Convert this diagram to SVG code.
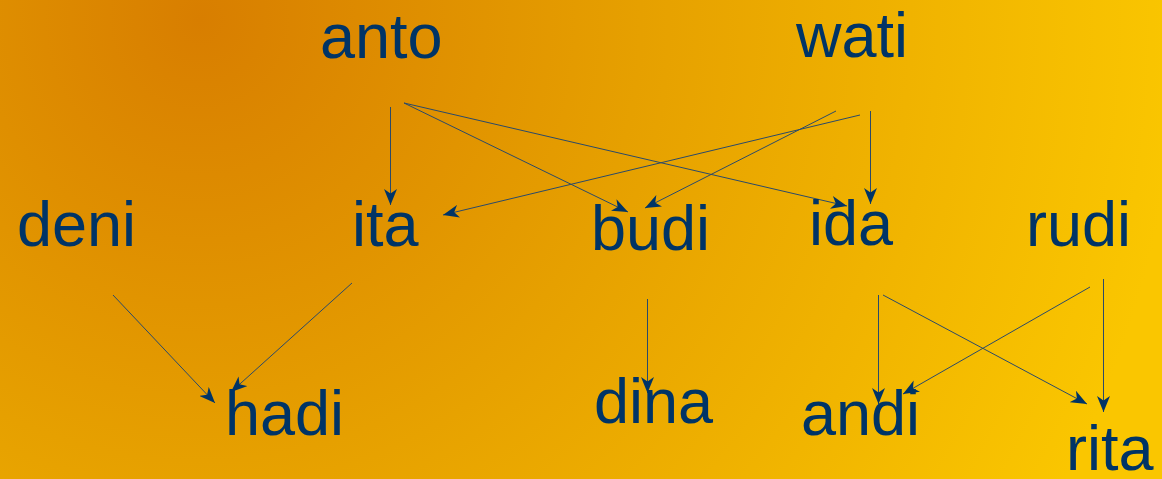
<svg xmlns="http://www.w3.org/2000/svg" width="1162" height="479" viewBox="0 0 1162 479">
<style>
.n{font-family:"Liberation Sans",Arial,sans-serif;font-size:63px;fill:#003466}
.e{stroke:#2a4a6a;stroke-width:1;fill:none;marker-end:url(#ah)}
</style>
<defs>
<radialGradient id="bg" gradientUnits="userSpaceOnUse" cx="200" cy="20" r="980">
<stop offset="0" stop-color="#D87E00"/>
<stop offset="0.45" stop-color="#E6A000"/>
<stop offset="1" stop-color="#FAC600"/>
</radialGradient>
<marker id="ah" markerUnits="userSpaceOnUse" markerWidth="17" markerHeight="13" viewBox="0 0 17 13" refX="16" refY="6.5" orient="auto">
<path d="M0,0 L16,6.5 L0,13 L4.5,6.5 Z" fill="#003466"/>
</marker>
</defs>
<rect width="1162" height="479" fill="url(#bg)"/>
<g id="connectors">
<line class="e" x1="390.5" y1="107" x2="390.5" y2="205"/>
<line class="e" x1="404" y1="103" x2="628" y2="212"/>
<line class="e" x1="404" y1="103" x2="847" y2="206"/>
<line class="e" x1="860" y1="115" x2="443" y2="215"/>
<line class="e" x1="836" y1="111" x2="645" y2="208"/>
<line class="e" x1="870.5" y1="111" x2="870.5" y2="204"/>
<line class="e" x1="113" y1="295" x2="215" y2="403"/>
<line class="e" x1="352" y1="283" x2="231" y2="392"/>
<line class="e" x1="647.5" y1="299" x2="647.5" y2="393"/>
<line class="e" x1="878.5" y1="295" x2="878.5" y2="404"/>
<line class="e" x1="883" y1="295" x2="1087" y2="404"/>
<line class="e" x1="1090" y1="287" x2="903" y2="394"/>
<line class="e" x1="1103.5" y1="279" x2="1103.5" y2="412"/>
</g>
<g id="anto"><text class="n" x="320" y="58">anto</text></g>
<g id="wati"><text class="n" x="796" y="57">wati</text></g>
<g id="deni"><text class="n" x="17" y="246">deni</text></g>
<g id="ita"><text class="n" x="352" y="246">ita</text></g>
<g id="budi"><text class="n" x="591" y="250">budi</text></g>
<g id="ida"><text class="n" x="809" y="245">ida</text></g>
<g id="rudi"><text class="n" x="1026" y="246">rudi</text></g>
<g id="hadi"><text class="n" x="225" y="435">hadi</text></g>
<g id="dina"><text class="n" x="594" y="423">dina</text></g>
<g id="andi"><text class="n" x="801" y="435">andi</text></g>
<g id="rita"><text class="n" x="1066" y="470">rita</text></g>
</svg>
